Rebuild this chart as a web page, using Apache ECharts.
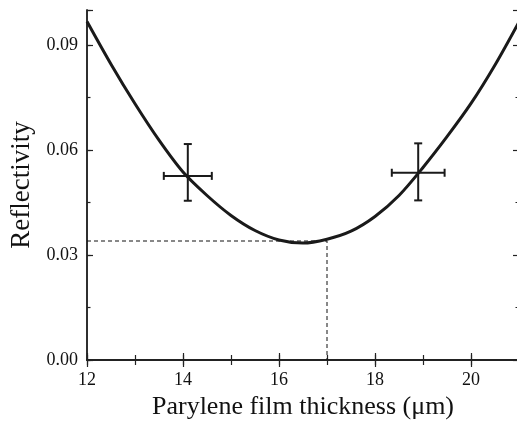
<!DOCTYPE html>
<html>
<head>
<meta charset="utf-8">
<script src="https://cdn.jsdelivr.net/npm/echarts@6/dist/echarts.min.js"></script>
<style>html,body{margin:0;padding:0;background:#fff}#c{width:517px;height:422px}</style>
</head>
<body>
<div id="c"></div>
<script>
// Curve data
var thickness = [12.0, 12.5, 13.0, 13.5, 14.0, 14.5, 15.0, 15.5, 16.0, 16.5, 17.0, 17.5, 18.0, 18.5, 19.0, 19.5, 20.0, 20.5, 21.0];
var reflectivity = [0.0967, 0.0845, 0.0732, 0.0628, 0.0537, 0.0470, 0.0413, 0.0370, 0.0343, 0.0334, 0.0345, 0.0368, 0.0410, 0.0470, 0.0550, 0.0638, 0.0733, 0.0843, 0.0966];
// Measured points with error bars
var measX = [14.1, 18.9];
var measY = [0.0526, 0.0535];
var measXLow = [13.6, 18.35];
var measXHigh = [14.6, 19.45];
var measYLow = [0.0455, 0.0456];
var measYHigh = [0.0617, 0.0619];
// Guide lines
var guideX = [12, 17, 17];
var guideY = [0.034, 0.034, 0];

var FONT = 'Liberation Serif';
var AX = '#222';

var curveData = thickness.map(function (t, i) { return [t, reflectivity[i]]; });
var guideData = guideX.map(function (g, i) { return [g, guideY[i]]; });
var errData = measX.map(function (x, i) { return [x, measY[i], measXLow[i], measXHigh[i], measYLow[i], measYHigh[i]]; });

function xAx(pos, interval, len, labels) {
  return {
    type: 'value', position: pos, min: 12, max: 21, interval: interval,
    axisLine: { show: true, lineStyle: { color: AX, width: 1.5 } },
    axisTick: { show: true, inside: true, length: len, lineStyle: { color: AX, width: 1.2 } },
    axisLabel: labels ? {
      show: true, color: '#111', fontFamily: FONT, fontSize: 18, margin: 11,
      formatter: function (v) { return v > 20.5 ? '' : String(v); }
    } : { show: false },
    splitLine: { show: false },
    name: labels ? 'Parylene film thickness (\u03bcm)' : '',
    nameLocation: 'middle', nameGap: 31,
    nameTextStyle: { fontFamily: FONT, fontSize: 26, color: '#111' }
  };
}
function yAx(pos, interval, len, labels) {
  return {
    type: 'value', position: pos, min: 0, max: 0.1, interval: interval,
    axisLine: { show: true, lineStyle: { color: AX, width: 1.5 } },
    axisTick: { show: true, inside: true, length: len, lineStyle: { color: AX, width: 1.2 } },
    axisLabel: labels ? {
      show: true, color: '#111', fontFamily: FONT, fontSize: 18, margin: 9,
      formatter: function (v) { return v > 0.095 ? '' : v.toFixed(2); }
    } : { show: false },
    splitLine: { show: false },
    name: labels ? 'Reflectivity' : '',
    nameLocation: 'middle', nameGap: 52,
    nameTextStyle: { fontFamily: FONT, fontSize: 27, color: '#111' }
  };
}

var chart = echarts.init(document.getElementById('c'), null, { renderer: 'canvas' });
chart.setOption({
  animation: false,
  backgroundColor: '#fff',
  grid: { left: 87, top: 10, width: 432, height: 350, containLabel: false, outerBoundsMode: 'none' },
  xAxis: [xAx('bottom', 2, 7, true), xAx('bottom', 1, 5, false), xAx('top', 2, 7, false), xAx('top', 1, 5, false)],
  yAxis: [yAx('left', 0.03, 6, true), yAx('left', 0.015, 3.5, false), yAx('right', 0.03, 6, false), yAx('right', 0.015, 3.5, false)],
  series: [
    {
      type: 'line', data: guideData, xAxisIndex: 0, yAxisIndex: 0,
      symbol: 'none', lineStyle: { color: '#111', width: 1, type: [4, 3] }, z: 1
    },
    {
      type: 'line', data: curveData, xAxisIndex: 0, yAxisIndex: 0,
      smooth: 0.3, symbol: 'none', lineStyle: { color: '#1a1a1a', width: 3 }, z: 3
    },
    {
      type: 'custom', data: errData, xAxisIndex: 0, yAxisIndex: 0, z: 4,
      renderItem: function (params, api) {
        var x = api.value(0), y = api.value(1);
        var l = api.coord([api.value(2), y]), r = api.coord([api.value(3), y]);
        var b = api.coord([x, api.value(4)]), t = api.coord([x, api.value(5)]);
        var st = { stroke: '#1a1a1a', lineWidth: 2 };
        var cap = 4;
        function seg(x1, y1, x2, y2) { return { type: 'line', shape: { x1: x1, y1: y1, x2: x2, y2: y2 }, style: st }; }
        return {
          type: 'group', children: [
            seg(l[0], l[1], r[0], r[1]),
            seg(t[0], t[1], b[0], b[1]),
            seg(l[0], l[1] - cap, l[0], l[1] + cap),
            seg(r[0], r[1] - cap, r[0], r[1] + cap),
            seg(t[0] - cap, t[1], t[0] + cap, t[1]),
            seg(b[0] - cap, b[1], b[0] + cap, b[1])
          ]
        };
      }
    }
  ]
});
</script>
</body>
</html>
